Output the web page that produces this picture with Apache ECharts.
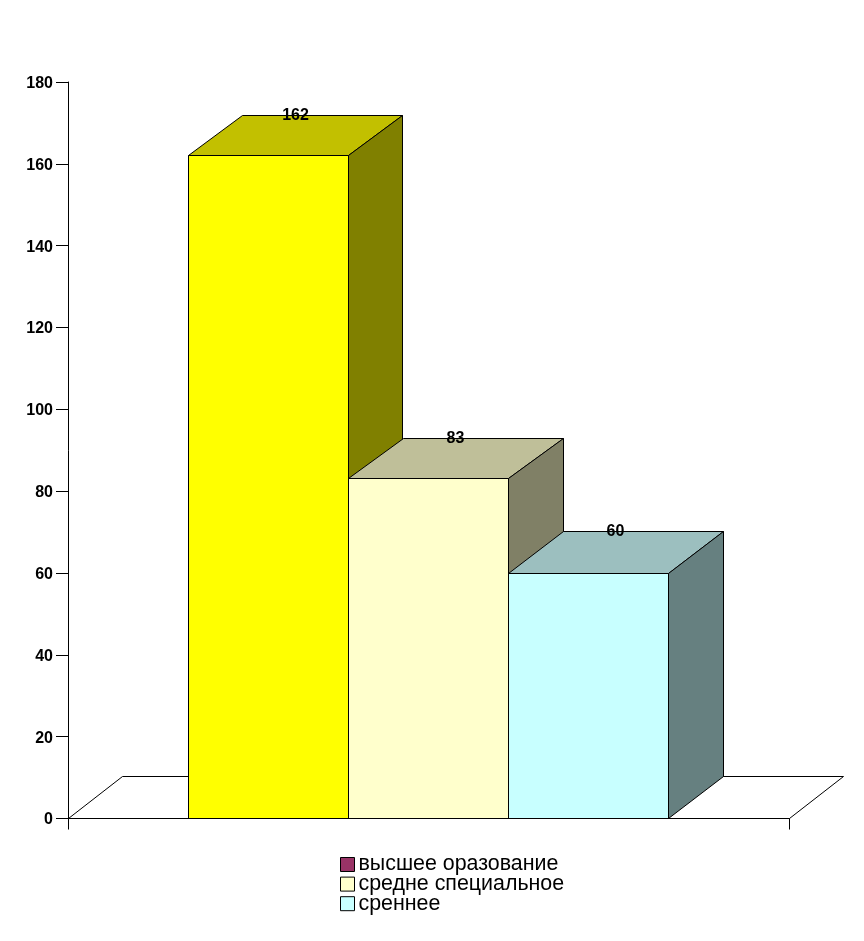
<!DOCTYPE html>
<html>
<head>
<meta charset="utf-8">
<style>html,body{margin:0;padding:0;background:#fff}#c{width:864px;height:941px}</style>
<script src="https://cdn.jsdelivr.net/npm/echarts@6/dist/echarts.min.js"></script>
</head>
<body>
<div id="c"></div>
<script>
const categories = [''];
const seriesNames = ['высшее оразование', 'средне специальное', 'среннее'];
const seriesValues = [162, 83, 60];
const legendColors = ['#993366', '#FFFFCC', '#C8FFFF'];
const frontColors = ['#FFFF00', '#FFFFCC', '#C8FFFF'];
const topColors = ['#C2C000', '#BFBF99', '#9CBFBF'];
const sideColors = ['#808000', '#808066', '#668080'];
const yTicks = [0, 180, 20];

const BAR_RATIO = 160 / 721;
const DX = [54, 55, 55];
const DY = [40, 40, 42];
const FLOOR_DX = 54;
const FLOOR_DY = 42;
const LABEL_FONT = 'bold 16px "Liberation Sans", Arial, sans-serif';
const snap = v => Math.floor(v) + 0.5;
const line = { stroke: '#000', lineWidth: 1 };

function renderBar(i) {
  return function (params, api) {
    const p = api.coord([api.value(0), api.value(1)]);
    const base = api.coord([api.value(0), 0]);
    const w = api.size([1, 0])[0] * BAR_RATIO;
    const l = snap(p[0] + (i - 1.5) * w);
    const r = l + w;
    const t = snap(p[1]);
    const b = snap(base[1]);
    const dx = DX[i];
    const dy = DY[i];
    const face = (pts, fill) => ({
      type: 'polygon',
      shape: { points: pts },
      style: Object.assign({ fill }, line)
    });
    return {
      type: 'group',
      children: [
        face([[l, b], [l, t], [r, t], [r, b]], frontColors[i]),
        face([[l, t], [l + dx, t - dy], [r + dx, t - dy], [r, t]], topColors[i]),
        face([[r, t], [r + dx, t - dy], [r + dx, b - dy], [r, b]], sideColors[i]),
        {
          type: 'text',
          style: {
            text: String(api.value(1)),
            x: (l + r) / 2 + 27,
            y: t - dy,
            textAlign: 'center',
            textVerticalAlign: 'middle',
            font: LABEL_FONT,
            fill: '#000'
          },
          z2: 10
        }
      ]
    };
  };
}

function renderFloor(params, api) {
  const b = api.coord([api.value(0), 0]);
  const w = api.size([1, 0])[0];
  const l = snap(b[0] - w / 2);
  const r = snap(b[0] + w / 2);
  const y = snap(b[1]);
  return {
    type: 'polygon',
    shape: { points: [[l, y], [l + FLOOR_DX, y - FLOOR_DY], [r + FLOOR_DX, y - FLOOR_DY], [r, y]] },
    style: Object.assign({ fill: '#fff' }, line)
  };
}

const series = [{
  type: 'custom',
  name: 'floor',
  renderItem: renderFloor,
  data: categories.map((c, k) => [k, 0]),
  clip: false,
  silent: true,
  z: 1
}].concat(seriesNames.map((name, i) => ({
  type: 'custom',
  name,
  renderItem: renderBar(i),
  data: [[0, seriesValues[i]]],
  itemStyle: { color: legendColors[i] },
  clip: false,
  z: 2 + i
})));

const chart = echarts.init(document.getElementById('c'), null, { renderer: 'canvas' });
chart.setOption({
  animation: false,
  backgroundColor: '#fff',
  grid: { left: 68, right: 75, top: 82, height: 736.5 },
  xAxis: {
    type: 'category',
    data: categories,
    axisLine: { lineStyle: { color: '#000', width: 1 } },
    axisTick: { show: true, length: 11, lineStyle: { color: '#000', width: 1 } },
    axisLabel: { show: false },
    splitLine: { show: false },
    z: 5
  },
  yAxis: {
    type: 'value',
    min: yTicks[0],
    max: yTicks[1],
    interval: yTicks[2],
    axisLine: { show: true, lineStyle: { color: '#000', width: 1 } },
    axisTick: { show: true, length: 12, lineStyle: { color: '#000', width: 1 } },
    axisLabel: {
      margin: 15,
      formatter: '{a|{value}}',
      rich: {
        a: {
          padding: [3, 0, 0, 0],
          color: '#000',
          fontWeight: 'bold',
          fontSize: 16,
          fontFamily: '"Liberation Sans", Arial, sans-serif'
        }
      }
    },
    splitLine: { show: false }
  },
  legend: {
    data: seriesNames,
    orient: 'vertical',
    left: 340,
    top: 854,
    padding: 0,
    itemWidth: 14,
    itemHeight: 14,
    itemGap: -1.4,
    icon: 'rect',
    align: 'left',
    selectedMode: false,
    itemStyle: { borderColor: '#000', borderWidth: 1 },
    textStyle: {
      color: '#000',
      fontSize: 21.4,
      fontFamily: '"Liberation Sans", Arial, sans-serif',
      padding: [0, 0, 0, -1]
    }
  },
  series
});
</script>
</body>
</html>
